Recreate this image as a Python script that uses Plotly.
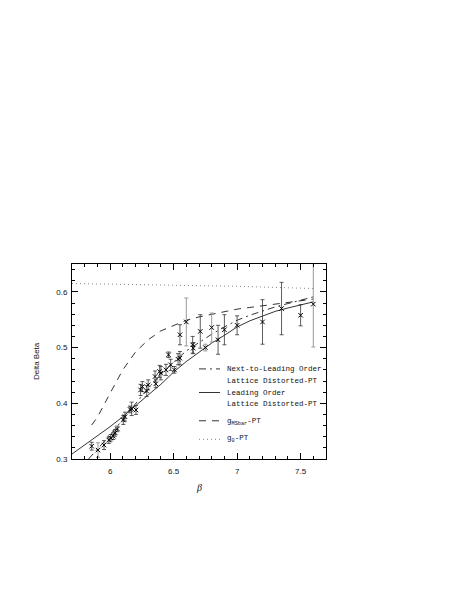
import plotly.graph_objects as go

# lattice data points (beta, delta beta, error) - black error bars
beta_pts = [5.855, 5.952, 5.99, 6.005, 6.025, 6.04, 6.057, 6.104, 6.117, 6.157,
            6.17, 6.204, 6.24, 6.254, 6.288, 6.30, 6.354, 6.36, 6.39, 6.40,
            6.44, 6.46, 6.477, 6.506, 6.535, 6.55, 6.55, 6.65, 6.655, 6.71,
            6.85, 6.90, 7.0, 7.2, 7.35, 7.5]
delta_pts = [0.323, 0.325, 0.334, 0.338, 0.341, 0.347, 0.354, 0.370, 0.376, 0.389,
             0.390, 0.388, 0.424, 0.430, 0.422, 0.433, 0.448, 0.435, 0.457, 0.454,
             0.460, 0.487, 0.469, 0.460, 0.479, 0.481, 0.523, 0.505, 0.499, 0.529,
             0.514, 0.532, 0.540, 0.546, 0.570, 0.558]
err_pts = [0.007, 0.008, 0.006, 0.006, 0.006, 0.006, 0.005, 0.008, 0.008, 0.006,
           0.012, 0.008, 0.010, 0.009, 0.010, 0.009, 0.010, 0.007, 0.011, 0.012,
           0.010, 0.005, 0.010, 0.006, 0.010, 0.012, 0.018, 0.015, 0.010, 0.030,
           0.026, 0.027, 0.017, 0.040, 0.047, 0.019]

# points drawn with grey error bars
beta_grey = [5.905, 6.6, 6.75, 6.8, 7.6]
delta_grey = [0.316, 0.546, 0.500, 0.536, 0.578]
err_grey = [0.013, 0.043, 0.006, 0.026, 0.077]

# leading order lattice distorted PT
beta_lo = [5.7, 5.8, 5.9, 6.0, 6.1, 6.2, 6.3, 6.4, 6.5, 6.6,
           6.7, 6.8, 6.9, 7.0, 7.1, 7.2, 7.3, 7.4, 7.5, 7.6]
delta_lo = [0.309, 0.325, 0.341, 0.358, 0.376, 0.396, 0.415, 0.434, 0.456, 0.475,
            0.492, 0.508, 0.522, 0.537, 0.548, 0.557, 0.565, 0.571, 0.577, 0.582]

# next-to-leading order lattice distorted PT
beta_nlo = [5.83, 5.9, 6.0, 6.1, 6.2, 6.3, 6.4, 6.5, 6.6, 6.7,
            6.8, 6.9, 7.0, 7.1, 7.2, 7.3, 7.4, 7.5, 7.6]
delta_nlo = [0.300, 0.318, 0.343, 0.371, 0.400, 0.427, 0.452, 0.474, 0.494, 0.509,
             0.524, 0.537, 0.549, 0.558, 0.566, 0.573, 0.579, 0.585, 0.591]

# g_MSbar PT
beta_ms = [5.855, 5.9, 6.0, 6.1, 6.2, 6.3, 6.4, 6.5, 6.6, 6.7,
           6.8, 6.9, 7.0, 7.1, 7.2, 7.3, 7.4, 7.5, 7.6]
delta_ms = [0.361, 0.375, 0.418, 0.460, 0.492, 0.514, 0.530, 0.540, 0.549, 0.555,
            0.560, 0.565, 0.569, 0.572, 0.575, 0.578, 0.581, 0.584, 0.587]

# g_0 PT
beta_g0 = [5.7, 6.0, 6.5, 7.0, 7.6]
delta_g0 = [0.615, 0.614, 0.612, 0.610, 0.606]

fig = go.Figure()

fig.add_trace(go.Scatter(x=beta_g0, y=delta_g0, mode='lines',
                         line=dict(color='#888888', width=1, dash='1px,3px')))
fig.add_trace(go.Scatter(x=beta_ms, y=delta_ms, mode='lines',
                         line=dict(color='black', width=0.8, dash='7px,6px')))
fig.add_trace(go.Scatter(x=beta_lo, y=delta_lo, mode='lines',
                         line=dict(color='black', width=0.8)))
fig.add_trace(go.Scatter(x=beta_nlo, y=delta_nlo, mode='lines',
                         line=dict(color='black', width=0.8, dash='7px,4px,2px,4px')))

fig.add_trace(go.Scatter(x=beta_grey, y=delta_grey, mode='markers',
                         marker=dict(symbol='x-thin-open', size=4.5, color='black',
                                     line=dict(color='black', width=1)),
                         error_y=dict(type='data', array=err_grey, color='#9a9a9a',
                                      thickness=1, width=2)))
fig.add_trace(go.Scatter(x=beta_pts, y=delta_pts, mode='markers',
                         marker=dict(symbol='x-thin-open', size=4.5, color='black',
                                     line=dict(color='black', width=1)),
                         error_y=dict(type='data', array=err_pts, color='#333333',
                                      thickness=0.8, width=2)))

# hand drawn legend, like the original figure
mono = dict(family='Liberation Mono', size=7.5, color='#111111')
legend_rows = [
    (0.462, dict(color='black', width=0.8, dash='7px,4px,2px,4px')),
    (0.341, dict(color='black', width=0.8)),
    (0.196, dict(color='black', width=0.8, dash='7px,6px')),
    (0.101, dict(color='#888888', width=1, dash='1px,3px')),
]
for yy, ln in legend_rows:
    fig.add_shape(type='line', xref='x domain', yref='y domain',
                  x0=0.50, x1=0.583, y0=yy, y1=yy, line=ln)

legend_text = [
    (0.460, 'Next-to-Leading Order'),
    (0.401, 'Lattice Distorted-PT'),
    (0.340, 'Leading Order'),
    (0.282, 'Lattice Distorted-PT'),
    (0.191, 'g<sub>MSbar</sub>-PT'),
    (0.101, 'g<sub>0</sub>-PT'),
]
for yy, txt in legend_text:
    fig.add_annotation(x=0.603, y=yy, xref='x domain', yref='y domain',
                       text=txt, showarrow=False, xanchor='left',
                       yanchor='middle', font=mono)

fig.add_annotation(x=-0.165, y=0.5, xref='paper', yref='paper',
                   text='Delta Beta', textangle=-90, showarrow=False,
                   font=dict(family='Liberation Sans', size=8, color='#111111'))
fig.add_annotation(x=0.5, y=-0.145, xref='paper', yref='paper',
                   text='<i>β</i>', showarrow=False, yanchor='middle',
                   font=dict(family='Liberation Serif', size=10, color='#111111'))

axis_common = dict(showline=True, linecolor='black', linewidth=1, mirror='allticks',
                   ticks='inside', ticklen=6, tickcolor='black', tickwidth=0.8,
                   showgrid=False, zeroline=False,
                   tickfont=dict(family='Liberation Sans', size=8, color='#111111'))

fig.update_xaxes(range=[5.7, 7.7], tickvals=[6, 6.5, 7, 7.5],
                 ticktext=['6', '6.5', '7', '7.5'], ticklabelstandoff=4,
                 minor=dict(ticks='inside', ticklen=3, dtick=0.1, tick0=5.7,
                            tickcolor='black', tickwidth=0.8),
                 **axis_common)
fig.update_yaxes(range=[0.3, 0.65], tickvals=[0.3, 0.4, 0.5, 0.6],
                 ticktext=['0.3', '0.4', '0.5', '0.6'], ticklabelstandoff=2,
                 minor=dict(ticks='inside', ticklen=3, dtick=0.02, tick0=0.3,
                            tickcolor='black', tickwidth=0.8),
                 **axis_common)

# page body adds an 8px offset, so margins are shifted to keep the frame in place
fig.update_layout(width=463, height=599, showlegend=False,
                  margin=dict(l=64, r=145, t=256, b=148),
                  plot_bgcolor='white', paper_bgcolor='white')

fig.write_html("out.html")
